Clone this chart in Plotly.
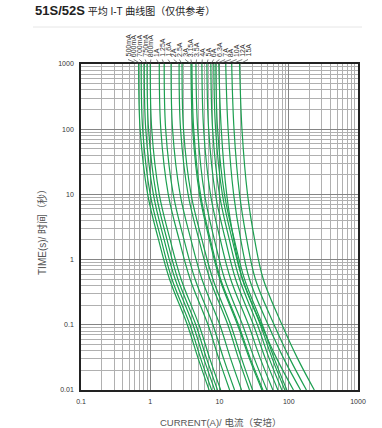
import plotly.graph_objects as go

# ---- data ----
times = [1000, 100, 10, 2, 0.5, 0.1, 0.03, 0.01]

ratings = ["500mA", "600mA", "700mA", "750mA", "800mA", "1A", "1.25A", "1.6A",
           "2A", "2.5A", "3A", "3.15A", "3.5A", "4A", "5A", "6A", "6.3A", "7A",
           "8A", "10A", "12A", "15A"]

c_500mA = [0.68, 0.714, 0.918, 1.32, 1.90, 3.43, 4.94, 7.07]
c_600mA = [0.74, 0.777, 0.999, 1.44, 2.06, 3.74, 5.37, 7.70]
c_700mA = [0.82, 0.861, 1.11, 1.59, 2.29, 4.14, 5.95, 8.53]
c_750mA = [0.90, 0.945, 1.22, 1.75, 2.51, 4.55, 6.53, 9.36]
c_800mA = [1.00, 1.05, 1.35, 1.94, 2.79, 5.05, 7.26, 10.4]
c_1A    = [1.35, 1.42, 1.82, 2.62, 3.77, 6.82, 9.80, 14.0]
c_1_25A = [1.59, 1.67, 2.15, 3.08, 4.44, 8.03, 11.5, 16.5]
c_1_6A  = [2.00, 2.10, 2.70, 3.88, 5.58, 10.1, 14.5, 20.8]
c_2A    = [2.61, 2.74, 3.52, 5.06, 7.28, 13.2, 18.9, 27.1]
c_2_5A  = [2.88, 3.02, 3.89, 5.59, 8.04, 14.5, 20.9, 30.0]
c_3A    = [3.87, 4.10, 5.15, 7.16, 10.1, 18.2, 27.1, 41.0]
c_3_15A = [4.00, 4.24, 5.32, 7.40, 10.4, 18.8, 28.0, 42.4]
c_3_5A  = [4.57, 4.84, 6.08, 8.45, 11.9, 21.5, 32.0, 48.4]
c_4A    = [5.57, 5.90, 7.41, 10.3, 14.5, 26.2, 39.0, 59.0]
c_5A    = [6.58, 6.97, 8.75, 12.2, 17.1, 30.9, 46.1, 69.7]
c_6A    = [7.50, 7.95, 9.98, 13.9, 19.5, 35.3, 52.5, 79.5]
c_6_3A  = [8.28, 8.78, 11.0, 15.3, 21.5, 38.9, 58.0, 87.8]
c_7A    = [8.85, 9.38, 11.8, 16.4, 23.0, 41.6, 62.0, 93.8]
c_8A    = [9.77, 10.6, 12.7, 16.1, 21.5, 40.1, 67.4, 117]
c_10A   = [12.3, 13.3, 16.0, 20.3, 27.1, 50.4, 84.9, 148]
c_12A   = [15.0, 16.2, 19.5, 24.8, 33.0, 61.5, 104, 180]
c_15A   = [19.5, 21.1, 25.4, 32.2, 42.9, 80.0, 135, 234]

curves = [c_500mA, c_600mA, c_700mA, c_750mA, c_800mA, c_1A, c_1_25A, c_1_6A,
          c_2A, c_2_5A, c_3A, c_3_15A, c_3_5A, c_4A, c_5A, c_6A, c_6_3A, c_7A,
          c_8A, c_10A, c_12A, c_15A]

x_tickvals = [0.1, 1, 10, 100, 1000]
x_ticktext = ["0.1", "1", "10", "100", "1000"]
y_tickvals = [0.01, 0.1, 1, 10, 100, 1000]
y_ticktext = ["0.01", "0.1", "1", "10", "100", "1000"]

# ---- figure ----
W, H = 382, 428
L, T = 81, 64
pw, ph = 277, 326
R = W - L - pw
B = H - T - ph
GREEN = "#1c9f50"
FONT = "Liberation Sans, Arial, Noto Sans CJK SC, sans-serif"


def px_x(p):  # page x pixel -> paper fraction
    return (p - L) / pw


def px_y(p):  # page y pixel -> paper fraction
    return (T + ph - p) / ph


fig = go.Figure()
for name, cur in zip(ratings, curves):
    fig.add_trace(go.Scatter(x=cur, y=times, mode="lines", name=name,
                             line=dict(color=GREEN, width=1.2, shape="spline"),
                             showlegend=False, hoverinfo="skip"))

axis_common = dict(type="log", showgrid=True, gridcolor="#858585", gridwidth=1,
                   showline=True, linecolor="#222", linewidth=1.6, mirror=True,
                   ticks="", zeroline=False,
                   tickfont=dict(size=7, color="#333", family=FONT),
                   minor=dict(dtick="D1", showgrid=True, gridcolor="#b0b0b0",
                              gridwidth=1, ticks=""))

fig.update_xaxes(range=[-1, 3], tickvals=x_tickvals, ticktext=x_ticktext,
                 ticklabelstandoff=4, **axis_common)
fig.update_yaxes(range=[-2, 3], tickvals=y_tickvals, ticktext=y_ticktext,
                 ticklabelstandoff=4, **axis_common)

# rating labels above the plot with leader lines
n = len(ratings)
lab_px0, lab_px1 = 128, 248
for i, (name, cur) in enumerate(zip(ratings, curves)):
    p = lab_px0 + (lab_px1 - lab_px0) * i / (n - 1)
    xval_log = -1 + 4 * px_x(p)
    fig.add_annotation(x=xval_log, xref="x", y=px_y(59), yref="paper",
                       text=name, textangle=-90, showarrow=False,
                       xanchor="center", yanchor="bottom",
                       font=dict(size=7, color="#333", family=FONT))
    fig.add_shape(type="line", xref="x", yref="paper",
                  x0=10 ** xval_log, y0=px_y(59.5),
                  x1=cur[0], y1=1.0,
                  line=dict(color="#444", width=0.7))

# axis titles
fig.add_annotation(x=px_x(220), xref="paper", y=px_y(422), yref="paper",
                   text="CURRENT(A)/ 电流（安培）", showarrow=False,
                   xanchor="center", yanchor="middle",
                   font=dict(size=9.5, color="#555", family=FONT))
fig.add_annotation(x=px_x(42), xref="paper", y=px_y(230), yref="paper",
                   text="TIME(s)/ 时间（秒）", textangle=-90, showarrow=False,
                   xanchor="center", yanchor="middle",
                   font=dict(size=10, color="#555", family=FONT))

# page title and separator line
fig.add_annotation(x=px_x(33), xref="paper", y=px_y(10.5), yref="paper",
                   text="<b><span style='font-size:13px'>51S/52S</span></b> 平均 I-T 曲线图（仅供参考）",
                   showarrow=False, xanchor="left", yanchor="middle",
                   font=dict(size=10, color="#222", family=FONT))
fig.add_shape(type="line", xref="paper", yref="paper",
              x0=px_x(33), x1=px_x(362),
              y0=px_y(27), y1=px_y(27),
              line=dict(color="#e6e6e6", width=1))

fig.update_layout(width=W, height=H, margin=dict(l=L, r=R, t=T, b=B, autoexpand=False),
                  paper_bgcolor="white", plot_bgcolor="white",
                  font=dict(family=FONT))

fig.write_html("out.html", config={"displayModeBar": False},
               post_script="document.body.style.margin='0';document.body.style.overflow='hidden';")
